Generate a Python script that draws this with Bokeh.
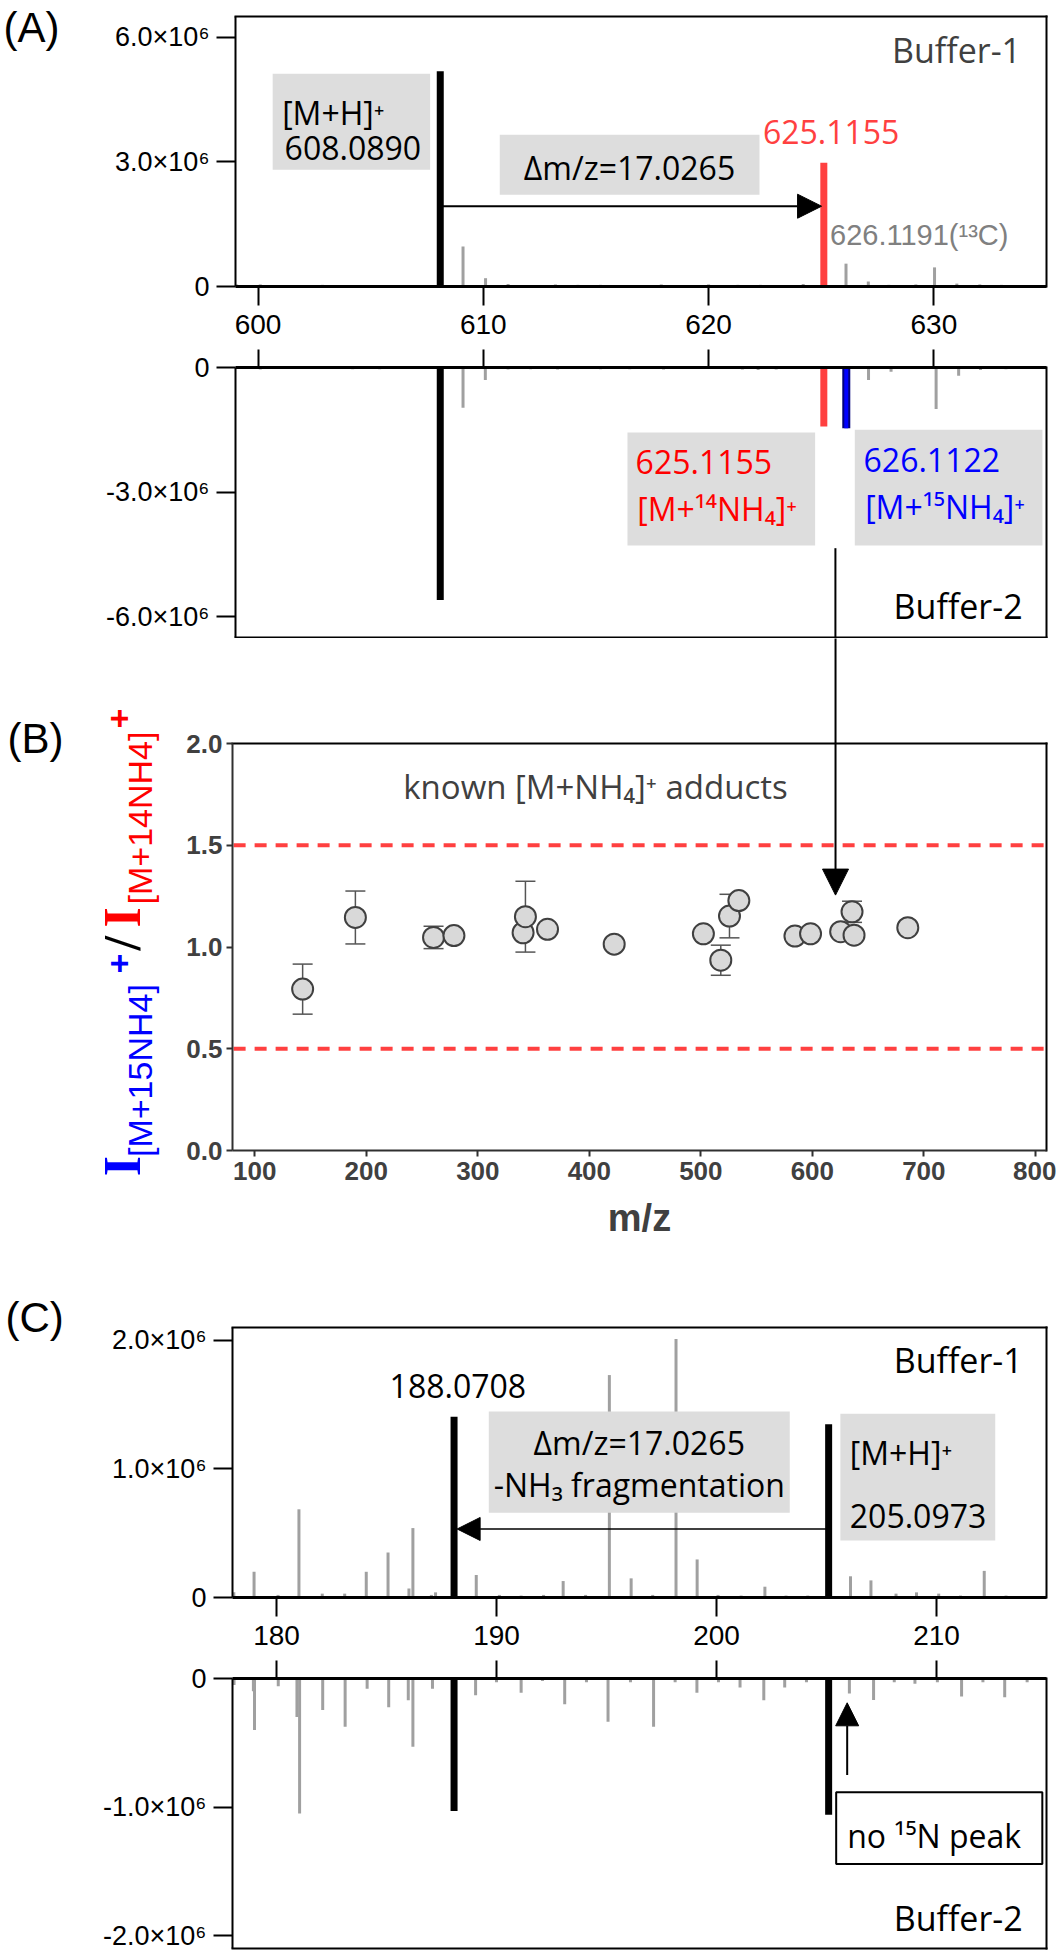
from bokeh.plotting import figure
from bokeh.layouts import column
from bokeh.models import (ColumnDataSource, Range1d, FixedTicker, Label, Arrow, LinearAxis,
                          NormalHead, Whisker, TeeHead, PrintfTickFormatter,
                          CustomJSTickFormatter)
from bokeh.embed import file_html
from bokeh.resources import INLINE

# ---------------- Panel A data (m/z, intensity) ----------------
a_xticks = [600, 610, 620, 630]
a_top_yticks = [0, 3000000, 6000000]
a_top_ylabels = ["0", "3.0×10⁶", "6.0×10⁶"]
a_bot_yticks = [0, -3000000, -6000000]
a_bot_ylabels = ["0", "-3.0×10⁶", "-6.0×10⁶"]

a_gray_mz_top = [599.05, 600.1, 602.86, 609.1, 610.1, 611.1, 613.2, 614.2, 615.2, 617.9,
                 620.0, 621.3, 622.3, 623.4, 624.2, 626.1, 627.09, 628.0, 629.2, 630.03,
                 631.02, 632.04, 633.0]
a_gray_int_top = [0.05e6, 0.05e6, 0.04e6, 0.96e6, 0.2e6, 0.06e6, 0.05e6, 0.04e6, 0.04e6, 0.05e6,
                  0.05e6, 0.04e6, 0.04e6, 0.03e6, 0.06e6, 0.55e6, 0.12e6, 0.04e6, 0.05e6, 0.46e6,
                  0.07e6, 0.05e6, 0.04e6]
a_gray_mz_bot = [600.1, 604.2, 605.4, 609.1, 610.09, 611.1, 612.1, 613.3, 615.2, 616.5,
                 618.0, 621.5, 622.2, 623.0, 627.1, 628.1, 630.1, 631.1, 632.07, 633.2]
a_gray_int_bot = [-0.05e6, -0.04e6, -0.04e6, -0.97e6, -0.3e6, -0.05e6, -0.04e6, -0.05e6, -0.04e6, -0.04e6,
                  -0.05e6, -0.05e6, -0.06e6, -0.05e6, -0.3e6, -0.1e6, -1.0e6, -0.2e6, -0.06e6, -0.04e6]
a_mh_mz = 608.0890
a_mh_top = 5.18e6
a_mh_bot = -5.6e6
a_n14_mz = 625.1155
a_n14_top = 2.98e6
a_n14_bot = -1.42e6
a_n15_mz = 626.1122
a_n15_bot = -1.46e6

# ---------------- Panel B data ----------------
b_xticks = [100, 200, 300, 400, 500, 600, 700, 800]
b_yticks = [0.0, 0.5, 1.0, 1.5, 2.0]
b_mz = [142.9, 190.2, 260.3, 278.6, 340.6, 342.7, 362.5, 422.3, 502.3, 517.9,
        525.7, 534.1, 584.4, 598.4, 625.4, 635.6, 637.4, 685.6]
b_ratio = [0.793, 1.145, 1.047, 1.056, 1.070, 1.149, 1.087, 1.014, 1.065, 0.935,
           1.152, 1.228, 1.054, 1.065, 1.075, 1.173, 1.058, 1.095]
b_err = [0.123, 0.13, 0.055, 0, 0, 0.174, 0, 0, 0, 0.074,
         0.107, 0, 0, 0, 0, 0.052, 0, 0]
b_limits = [0.5, 1.5]

# ---------------- Panel C data ----------------
c_xticks = [180, 190, 200, 210]
c_top_yticks = [0, 1000000, 2000000]
c_top_ylabels = ["0", "1.0×10⁶", "2.0×10⁶"]
c_bot_yticks = [0, -1000000, -2000000]
c_bot_ylabels = ["0", "-1.0×10⁶", "-2.0×10⁶"]

c_gray_mz_top = [178.06, 178.98, 180.07, 181.02, 182.08, 183.1, 184.08, 185.07, 186.02, 186.2,
                 187.04, 187.23, 189.08, 190.13, 191.12, 192.14, 193.03, 194.05, 195.13, 196.12,
                 197.1, 198.16, 199.12, 200.07, 201.12, 202.2, 203.16, 204.15, 206.09, 207.02,
                 208.16, 209.09, 210.1, 211.09, 212.17, 213.16, 214.08]
c_gray_int_top = [0.04e6, 0.2e6, 0.02e6, 0.686e6, 0.03e6, 0.03e6, 0.2e6, 0.35e6, 0.07e6, 0.54e6,
                  0.02e6, 0.04e6, 0.175e6, 0.02e6, 0.015e6, 0.02e6, 0.128e6, 0.02e6, 1.73e6, 0.149e6,
                  0.02e6, 2.01e6, 0.296e6, 0.02e6, 0.015e6, 0.084e6, 0.015e6, 0.015e6, 0.165e6, 0.133e6,
                  0.03e6, 0.04e6, 0.03e6, 0.015e6, 0.207e6, 0.015e6, 0.01e6]
c_gray_mz_bot = [178.07, 178.95, 179.0, 180.08, 180.93, 181.05, 182.1, 183.12, 184.12, 185.1,
                 185.99, 186.2, 187.09, 189.05, 190.0, 191.12, 192.09, 193.1, 194.09, 195.07,
                 196.09, 197.14, 198.12, 199.11, 200.09, 201.07, 202.15, 203.1, 204.09, 206.04,
                 207.14, 208.08, 209.02, 210.04, 211.14, 212.11, 213.1, 214.12]
c_gray_int_bot = [-0.05e6, -0.1e6, -0.4e6, -0.06e6, -0.3e6, -1.05e6, -0.245e6, -0.376e6, -0.08e6, -0.224e6,
                  -0.17e6, -0.53e6, -0.08e6, -0.13e6, -0.03e6, -0.11e6, -0.02e6, -0.2e6, -0.03e6, -0.336e6,
                  -0.03e6, -0.376e6, -0.03e6, -0.11e6, -0.03e6, -0.07e6, -0.17e6, -0.07e6, -0.03e6, -0.117e6,
                  -0.168e6, -0.03e6, -0.04e6, -0.03e6, -0.14e6, -0.03e6, -0.145e6, -0.03e6]
c_main_mz = [188.0708, 205.0973]
c_main_top = [1.405e6, 1.347e6]
c_main_bot = [-1.03e6, -1.06e6]

GRAY = "#a0a0a0"
BOXFILL = "#dddddd"
TICKFONT = "Liberation Sans"
ANNFONT = "Open Sans"
W = 1056


def panel_fig(h, x_left_px, x_left_val, xk, y0_px, yk):
    """Figure whose frame fills the whole canvas; ranges set so that the boxed
    plot area sits at the wanted pixel position."""
    xr = Range1d(x_left_val - x_left_px / xk, x_left_val + (W - x_left_px) / xk)
    yr = Range1d(-(h - y0_px) / yk, y0_px / yk)
    p = figure(frame_width=W, frame_height=h, x_range=xr, y_range=yr,
               output_backend="svg", toolbar_location=None,
               x_axis_location=None, y_axis_location=None,
               min_border_left=0, min_border_right=0, min_border_top=0,
               min_border_bottom=0, background_fill_color="white",
               border_fill_color="white")
    p.outline_line_color = None
    p.grid.visible = False
    return p


def add_axis(p, side, loc, bounds, ticks, tick_out, overrides=None, formatter=None,
             font=TICKFONT, size="27px", style="normal", color="black", line_w=2,
             line_color="black", standoff=7, hide_labels=False):
    ax = LinearAxis(fixed_location=loc, bounds=bounds, ticker=FixedTicker(ticks=ticks))
    ax.major_tick_out = tick_out
    ax.major_tick_in = 0
    ax.minor_tick_out = 0
    ax.minor_tick_in = 0
    ax.major_tick_line_width = 2
    ax.major_tick_line_color = line_color
    ax.axis_line_width = line_w
    ax.axis_line_color = line_color
    ax.major_label_standoff = standoff
    if hide_labels:
        ax.formatter = CustomJSTickFormatter(code="return ''")
        ax.major_label_text_font_size = "1px"
    else:
        if overrides is not None:
            ax.major_label_overrides = overrides
        if formatter is not None:
            ax.formatter = formatter
        ax.major_label_text_font = font
        ax.major_label_text_font_size = size
        ax.major_label_text_font_style = style
        ax.major_label_text_color = color
    p.add_layout(ax, side)
    return ax


def frame_line(p, x0, y0, x1, y1, w=2):
    p.segment(x0=[x0], y0=[y0], x1=[x1], y1=[y1], line_color="black", line_width=w,
              line_cap="square")


def peaks(p, mz, inten, color, width):
    src = ColumnDataSource(dict(mz=mz, top=inten, base=[0] * len(mz)))
    p.segment(x0="mz", y0="base", x1="mz", y1="top", source=src, line_color=color,
              line_width=width, line_cap="butt")


def lab(p, x, y, text, size, color="black", font=ANNFONT, align="left",
        baseline="middle", angle=0, style="normal"):
    p.add_layout(Label(x=x, y=y, text=text, text_font=font, text_font_size=f"{size}px",
                       text_color=color, text_align=align, text_baseline=baseline,
                       angle=angle, angle_units="deg", text_font_style=style))


def box(p, l, r, b, t, fill=BOXFILL, line=None, lw=0):
    p.quad(left=[l], right=[r], bottom=[b], top=[t], fill_color=fill,
           line_color=line, line_width=lw)


AXK = 811 / 36.0          # px per m/z unit, panel A
AYK = 270 / 6.5e6         # px per count, panel A
CXK = 814 / 37.0
CYK = 270 / 2.1e6
BXK = 814 / 730.0
BYK = 407 / 2.0

# ======================= Panel A, Buffer-1 =======================
pa1 = panel_fig(347, 235, 599, AXK, 286, AYK)
add_axis(pa1, "left", 599, (0, 6.5e6), a_top_yticks, 19,
         overrides=dict(zip(a_top_yticks, a_top_ylabels)))
add_axis(pa1, "below", 0, (599, 635), a_xticks, 19, size="28px", line_w=3, standoff=9)
frame_line(pa1, 599, 6.5e6, 635, 6.5e6)
frame_line(pa1, 635, 0, 635, 6.5e6)
peaks(pa1, a_gray_mz_top, a_gray_int_top, GRAY, 3)
peaks(pa1, [a_mh_mz], [a_mh_top], "black", 7)
peaks(pa1, [a_n14_mz], [a_n14_top], "#ff4040", 7)
box(pa1, 600.65, 607.64, 2.81e6, 5.12e6)
box(pa1, 610.73, 622.26, 2.208e6, 3.652e6)
lab(pa1, 601.07, 4.2e6, "[M+H]⁺", 32)
lab(pa1, 601.18, 3.334e6, "608.0890", 32)
lab(pa1, 616.49, 2.872e6, "Δm/z=17.0265", 32, align="center")
lab(pa1, 622.41, 3.715e6, "625.1155", 32, color="#ff4040")
lab(pa1, 625.39, 1.228e6, "626.1191(¹³C)", 29, color="#808080", font=TICKFONT)
lab(pa1, 633.87, 5.70e6, "Buffer-1", 34, color="#404040", align="right")
lab(pa1, 588.70, 6.235e6, "(A)", 42, font=TICKFONT)
pa1.add_layout(Arrow(end=NormalHead(size=24, fill_color="black", line_color="black"),
                     x_start=a_mh_mz + 0.12, y_start=1.933e6, x_end=a_n14_mz - 0.1,
                     y_end=1.933e6, line_width=2, line_color="black"))

# ======================= Panel A, Buffer-2 =======================
pa2 = panel_fig(291, 235, 599, AXK, 20, AYK)
add_axis(pa2, "left", 599, (-6.5e6, 0), a_bot_yticks, 19,
         overrides=dict(zip(a_bot_yticks, a_bot_ylabels)))
add_axis(pa2, "above", 0, (599, 635), a_xticks, 18, line_w=3, standoff=0, hide_labels=True)
frame_line(pa2, 599, -6.5e6, 635, -6.5e6)
frame_line(pa2, 635, 0, 635, -6.5e6)
peaks(pa2, a_gray_mz_bot, a_gray_int_bot, GRAY, 3)
peaks(pa2, [a_mh_mz], [a_mh_bot], "black", 7)
peaks(pa2, [a_n14_mz], [a_n14_bot], "#ff4040", 7)
peaks(pa2, [a_n15_mz], [a_n15_bot], "#00007a", 8)
peaks(pa2, [a_n15_mz], [a_n15_bot], "#0000ff", 4)
box(pa2, 616.40, 624.73, -4.285e6, -1.565e6)
box(pa2, 626.49, 634.82, -4.285e6, -1.50e6)
lab(pa2, 616.76, -2.263e6, "625.1155", 32, color="#ff0000")
lab(pa2, 616.83, -3.394e6, "[M+¹⁴NH₄]⁺", 32, color="#ff0000")
lab(pa2, 626.88, -2.215e6, "626.1122", 32, color="#0000ff")
lab(pa2, 626.95, -3.346e6, "[M+¹⁵NH₄]⁺", 32, color="#0000ff")
lab(pa2, 633.94, -5.734e6, "Buffer-2", 34, align="right")
pa2.add_layout(Arrow(end=None, x_start=625.63, y_start=-4.35e6, x_end=625.63,
                     y_end=-6.7e6, line_width=2, line_color="black"))

# ======================= Panel B =======================
pb = panel_fig(612, 232, 80, BXK, 512, BYK)
add_axis(pb, "left", 80, (0, 2), b_yticks, 6, formatter=PrintfTickFormatter(format="%.1f"),
         size="26px", style="bold", color="#404040", line_color="#303030", standoff=4)
add_axis(pb, "below", 0, (80, 810), b_xticks, 6, size="26px", style="bold",
         color="#404040", line_color="#303030", standoff=5)
frame_line(pb, 80, 2, 810, 2)
frame_line(pb, 810, 0, 810, 2)
for lim in b_limits:
    pb.segment(x0=[81], y0=[lim], x1=[810], y1=[lim], line_color="#ff4040", line_width=4,
               line_dash="12 9")

w_idx = [i for i, e in enumerate(b_err) if e > 0]
wsrc = ColumnDataSource(dict(x=[b_mz[i] for i in w_idx],
                             lo=[b_ratio[i] - b_err[i] for i in w_idx],
                             hi=[b_ratio[i] + b_err[i] for i in w_idx]))
pb.add_layout(Whisker(source=wsrc, base="x", lower="lo", upper="hi", dimension="height",
                      line_color="#555555", line_width=1.5, level="underlay",
                      upper_head=TeeHead(size=20, line_color="#555555", line_width=1.5),
                      lower_head=TeeHead(size=20, line_color="#555555", line_width=1.5)))
psrc = ColumnDataSource(dict(x=b_mz, y=b_ratio))
pb.scatter(x="x", y="y", source=psrc, size=21, marker="circle", fill_color="#d9d9d9",
           line_color="#404040", line_width=2)

lab(pb, 233.1, 1.790, "known [M+NH₄]⁺ adducts", 33, color="#404040")
lab(pb, 445.0, -0.334, "m/z", 38, color="#404040", font=TICKFONT, align="center", style="bold")
lab(pb, -121.8, 2.0265, "(B)", 42, font=TICKFONT)
pb.add_layout(Arrow(end=NormalHead(size=26, fill_color="black", line_color="black"),
                    x_start=620.8, y_start=2.6, x_end=620.8, y_end=1.255,
                    line_width=2, line_color="black"))
# rotated y-axis label: I[M+15NH4]+ / I[M+14NH4]+
lab(pb, -18.6, -0.127, "I", 52, color="#0000ff", font="Liberation Serif", baseline="alphabetic",
    angle=90, style="bold")
lab(pb, -3.4, -0.032, "[M+15NH4]", 34, color="#0000ff", font=TICKFONT, baseline="alphabetic",
    angle=90)
lab(pb, -21.3, 0.870, "+", 34, color="#0000ff", font=TICKFONT, baseline="alphabetic", angle=90,
    style="bold")
lab(pb, -18.6, 0.983, "/", 52, color="black", font="Liberation Serif", baseline="alphabetic",
    angle=90, style="bold")
lab(pb, -18.6, 1.096, "I", 52, color="#ff0000", font="Liberation Serif", baseline="alphabetic",
    angle=90, style="bold")
lab(pb, -3.4, 1.209, "[M+14NH4]", 34, color="#ff0000", font=TICKFONT, baseline="alphabetic",
    angle=90)
lab(pb, -21.3, 2.074, "+", 34, color="#ff0000", font=TICKFONT, baseline="alphabetic", angle=90,
    style="bold")

# ======================= Panel C, Buffer-1 =======================
pc1 = panel_fig(408, 232, 178, CXK, 347, CYK)
add_axis(pc1, "left", 178, (0, 2.1e6), c_top_yticks, 19,
         overrides=dict(zip(c_top_yticks, c_top_ylabels)))
add_axis(pc1, "below", 0, (178, 215), c_xticks, 19, size="28px", line_w=3, standoff=9)
frame_line(pc1, 178, 2.1e6, 215, 2.1e6)
frame_line(pc1, 215, 0, 215, 2.1e6)
peaks(pc1, c_gray_mz_top, c_gray_int_top, GRAY, 3)
peaks(pc1, c_main_mz, c_main_top, "black", 7)
box(pc1, 189.65, 203.33, 0.660e6, 1.447e6)
box(pc1, 205.63, 212.67, 0.443e6, 1.429e6)
lab(pc1, 185.14, 1.647e6, "188.0708", 32)
lab(pc1, 196.49, 1.202e6, "Δm/z=17.0265", 32, align="center")
lab(pc1, 196.49, 0.877e6, "-NH₃ fragmentation", 32, align="center")
lab(pc1, 206.06, 1.128e6, "[M+H]⁺", 32)
lab(pc1, 206.06, 0.633e6, "205.0973", 32)
lab(pc1, 213.92, 1.847e6, "Buffer-1", 34, align="right")
lab(pc1, 167.68, 2.178e6, "(C)", 42, font=TICKFONT)
pc1.add_layout(Arrow(end=NormalHead(size=23, fill_color="black", line_color="black"),
                     x_start=c_main_mz[1] - 0.12, y_start=0.533e6, x_end=c_main_mz[0] + 0.14,
                     y_end=0.533e6, line_width=1.5, line_color="black"))

# ======================= Panel C, Buffer-2 =======================
pc2 = panel_fig(292, 232, 178, CXK, 20, CYK)
add_axis(pc2, "left", 178, (-2.1e6, 0), c_bot_yticks, 19,
         overrides=dict(zip(c_bot_yticks, c_bot_ylabels)))
add_axis(pc2, "above", 0, (178, 215), c_xticks, 18, line_w=3, standoff=0, hide_labels=True)
frame_line(pc2, 178, -2.1e6, 215, -2.1e6)
frame_line(pc2, 215, 0, 215, -2.1e6)
peaks(pc2, c_gray_mz_bot, c_gray_int_bot, GRAY, 3)
peaks(pc2, c_main_mz, c_main_bot, "black", 7)
box(pc2, 205.44, 214.81, -1.443e6, -0.884e6, fill="white", line="black", lw=2)
lab(pc2, 205.94, -1.219e6, "no ¹⁵N peak", 32)
lab(pc2, 213.92, -1.861e6, "Buffer-2", 34, align="right")
pc2.add_layout(Arrow(end=NormalHead(size=23, fill_color="black", line_color="black"),
                     x_start=205.94, y_start=-0.751e6, x_end=205.94, y_end=-0.189e6,
                     line_width=2, line_color="black"))

layout = column(pa1, pa2, pb, pc1, pc2, spacing=0)
open("out.html", "w").write(file_html(layout, INLINE))
